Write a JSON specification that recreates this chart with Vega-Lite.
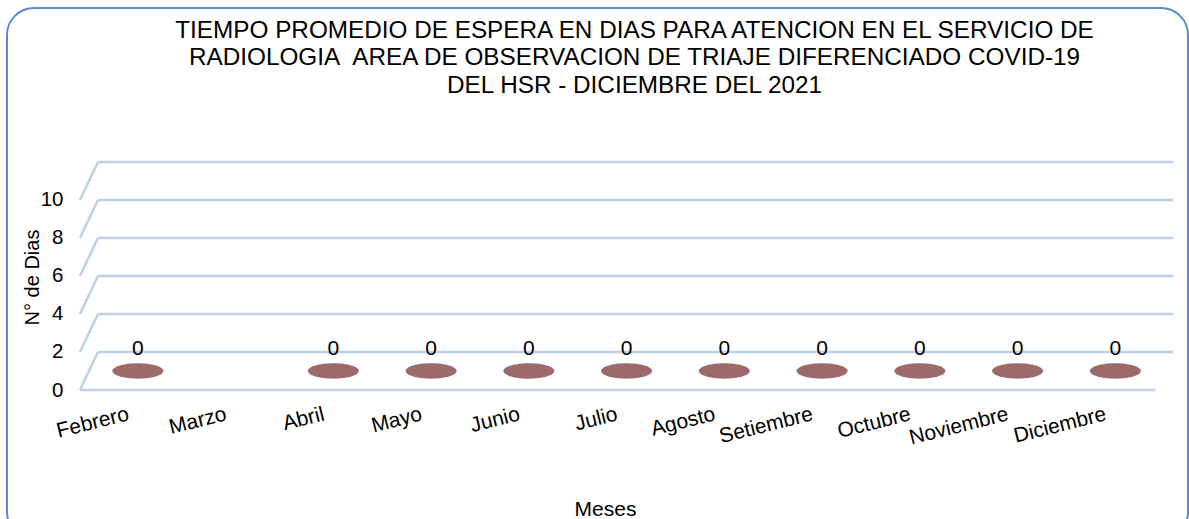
{
  "$schema": "https://vega.github.io/schema/vega-lite/v6.json",
  "width": 1181,
  "height": 531,
  "autosize": {"type": "none"},
  "padding": {"left": 7, "top": 8, "right": 1, "bottom": -20},
  "title": {
    "text": [
      "TIEMPO PROMEDIO DE ESPERA EN DIAS PARA ATENCION EN EL SERVICIO DE",
      "RADIOLOGIA\u00a0 AREA DE OBSERVACION DE TRIAJE DIFERENCIADO COVID-19",
      "DEL HSR - DICIEMBRE DEL 2021"
    ],
    "font": "Liberation Sans",
    "fontSize": 24.3,
    "fontWeight": "normal",
    "color": "#000000",
    "anchor": "middle",
    "frame": "group",
    "dx": 37,
    "offset": -90,
    "lineHeight": 27.5
  },
  "datasets": {
    "meses": [
      {"mes": "Febrero", "dias": 0},
      {"mes": "Marzo", "dias": null},
      {"mes": "Abril", "dias": 0},
      {"mes": "Mayo", "dias": 0},
      {"mes": "Junio", "dias": 0},
      {"mes": "Julio", "dias": 0},
      {"mes": "Agosto", "dias": 0},
      {"mes": "Setiembre", "dias": 0},
      {"mes": "Octubre", "dias": 0},
      {"mes": "Noviembre", "dias": 0},
      {"mes": "Diciembre", "dias": 0}
    ],
    "grid": [
      {"v": 0}, {"v": 2}, {"v": 4}, {"v": 6}, {"v": 8}, {"v": 10}
    ]
  },
  "layer": [
    {
      "data": {"name": "grid"},
      "mark": {"type": "rule", "color": "#BDD0E9", "strokeWidth": 2.5, "xOffset": -30.9, "x2Offset": 66.9, "yOffset": -38},
      "encoding": {
        "x": {"datum": "Febrero", "type": "nominal", "title": "Meses", "scale": {"type": "band", "domain": ["Febrero", "Marzo", "Abril", "Mayo", "Junio", "Julio", "Agosto", "Setiembre", "Octubre", "Noviembre", "Diciembre"], "paddingInner": 0, "paddingOuter": 0.541, "align": 0.69}},
        "x2": {"datum": "Diciembre"},
        "y": {"field": "v", "type": "quantitative", "title": "N° de Dias", "scale": {"domain": [-7.842, 20.105], "nice": false, "zero": false}, "axis": {"values": [0, 2, 4, 6, 8, 10]}}
      }
    },
    {
      "data": {"name": "grid"},
      "transform": [{"filter": "datum.v == 0"}],
      "mark": {"type": "rule", "color": "#BDD0E9", "strokeWidth": 2.5, "xOffset": -48.9, "x2Offset": 48.9},
      "encoding": {
        "x": {"datum": "Febrero", "type": "nominal", "title": "Meses", "scale": {"type": "band", "domain": ["Febrero", "Marzo", "Abril", "Mayo", "Junio", "Julio", "Agosto", "Setiembre", "Octubre", "Noviembre", "Diciembre"], "paddingInner": 0, "paddingOuter": 0.541, "align": 0.69}},
        "x2": {"datum": "Diciembre"},
        "y": {"field": "v", "type": "quantitative", "title": "N° de Dias", "scale": {"domain": [-7.842, 20.105], "nice": false, "zero": false}, "axis": {"values": [0, 2, 4, 6, 8, 10]}}
      }
    },
    {
      "data": {"name": "grid"},
      "mark": {"type": "rule", "color": "#BDD0E9", "strokeWidth": 2.5, "xOffset": -48.9, "x2Offset": -30.9, "y2Offset": -38},
      "encoding": {
        "x": {"datum": "Febrero", "type": "nominal", "title": "Meses", "scale": {"type": "band", "domain": ["Febrero", "Marzo", "Abril", "Mayo", "Junio", "Julio", "Agosto", "Setiembre", "Octubre", "Noviembre", "Diciembre"], "paddingInner": 0, "paddingOuter": 0.541, "align": 0.69}},
        "x2": {"datum": "Febrero"},
        "y": {"field": "v", "type": "quantitative", "title": "N° de Dias", "scale": {"domain": [-7.842, 20.105], "nice": false, "zero": false}, "axis": {"values": [0, 2, 4, 6, 8, 10]}},
        "y2": {"field": "v"}
      }
    },
    {
      "data": {"name": "meses"},
      "mark": {
        "type": "point",
        "shape": "M-1,0A1,0.3,0,1,0,1,0A1,0.3,0,1,0,-1,0Z",
        "size": 2601,
        "filled": true,
        "opacity": 1,
        "color": "#9C6A6A",
        "xOffset": 9,
        "yOffset": -19
      },
      "encoding": {
        "x": {"field": "mes", "type": "nominal", "sort": null, "title": "Meses", "scale": {"type": "band", "domain": ["Febrero", "Marzo", "Abril", "Mayo", "Junio", "Julio", "Agosto", "Setiembre", "Octubre", "Noviembre", "Diciembre"], "paddingInner": 0, "paddingOuter": 0.541, "align": 0.69}},
        "y": {"field": "dias", "type": "quantitative", "title": "N° de Dias", "scale": {"domain": [-7.842, 20.105], "nice": false, "zero": false}, "axis": {"values": [0, 2, 4, 6, 8, 10]}}
      }
    },
    {
      "data": {"name": "meses"},
      "mark": {"type": "text", "fontSize": 21, "baseline": "middle", "align": "center", "color": "#000000", "xOffset": 9, "yOffset": -41},
      "encoding": {
        "x": {"field": "mes", "type": "nominal", "sort": null, "title": "Meses", "scale": {"type": "band", "domain": ["Febrero", "Marzo", "Abril", "Mayo", "Junio", "Julio", "Agosto", "Setiembre", "Octubre", "Noviembre", "Diciembre"], "paddingInner": 0, "paddingOuter": 0.541, "align": 0.69}},
        "y": {"field": "dias", "type": "quantitative", "title": "N° de Dias", "scale": {"domain": [-7.842, 20.105], "nice": false, "zero": false}, "axis": {"values": [0, 2, 4, 6, 8, 10]}},
        "text": {"field": "dias", "type": "quantitative", "format": "d"}
      }
    }
  ],
  "config": {
    "font": "Liberation Sans",
    "view": {"stroke": "#5A8AD4", "strokeWidth": 2, "cornerRadius": 27, "fill": null},
    "axis": {
      "labelFont": "Liberation Sans",
      "titleFont": "Liberation Sans",
      "labelColor": "#000000",
      "titleColor": "#000000",
      "titleFontWeight": "normal"
    },
    "axisX": {
      "orient": "bottom",
      "offset": -149,
      "domain": false,
      "ticks": false,
      "tickSize": 0,
      "grid": false,
      "labelAngle": -14,
      "labelAlign": "right",
      "labelBaseline": "top",
      "labelPadding": 13,
      "labelOffset": -3,
      "labelFontSize": 21,
      "titleFontSize": 21,
      "titleX": 598,
      "titleY": 125,
      "titleAlign": "center",
      "titleBaseline": "alphabetic"
    },
    "axisY": {
      "domain": false,
      "ticks": false,
      "tickSize": 0,
      "grid": false,
      "labelPadding": -56,
      "labelAlign": "right",
      "labelFontSize": 20.5,
      "titleFontSize": 20,
      "titleAngle": -90,
      "titleX": 25,
      "titleY": 269,
      "titleAlign": "center",
      "titleBaseline": "middle"
    },
    "text": {"font": "Liberation Sans"}
  }
}
